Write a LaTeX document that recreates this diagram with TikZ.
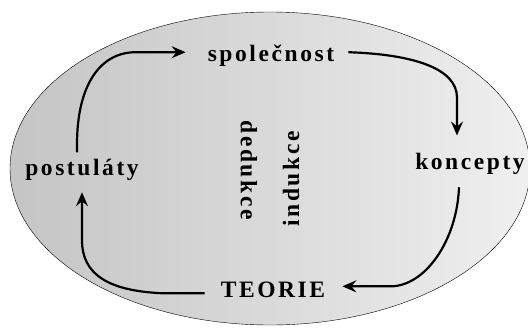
\documentclass[tikz,border=0pt]{standalone}
\usepackage{fontspec}
\setmainfont{Liberation Serif}
\newfontfamily\spacedfont[LetterSpace=11]{Liberation Serif Bold}
\usetikzlibrary{arrows.meta}

\begin{document}
\begin{tikzpicture}[x = 1pt, y = -1pt, > = {Stealth[length=14pt, width=12pt, inset=5pt]},
  lbl/.style = {font=\spacedfont\fontsize{23.5}{26}\selectfont, inner sep=0pt},
  cyc/.style = {->, line width=2.2pt}]
\useasboundingbox (0,0) rectangle (528,327);
\draw[thin, left color=black!23, middle color=black!6, right color=black!6]
  (270,168.5) ellipse [x radius=260pt, y radius=156.5pt];
\node[lbl, anchor=base] (spol) at (271,61) {společnost};
\node[lbl, anchor=base] (konc) at (470,169) {koncepty};
\node[lbl, anchor=base] (post) at (82,175) {postuláty};
\node[lbl, anchor=base] (teor) at (273,297) {TEORIE};
\node[lbl, rotate=-90] (ded) at (249,170) {dedukce};
\node[lbl, rotate=90] (ind) at (291,179) {indukce};
%
\draw[cyc] ([xshift=-5pt, yshift=6pt]post.north) -- ++(0,-8)
  .. controls +(0,-60) and +(-35,0) .. ([xshift=-72pt, yshift=3pt]spol.west)
  -- ([xshift=-22pt, yshift=3pt]spol.west);
\draw[cyc] ([xshift=14pt, yshift=3pt]spol.east)
  .. controls +(62,2) and +(0,-30) .. ([xshift=-13pt, yshift=55pt]konc.north)
  -- ([xshift=-13pt, yshift=17pt]konc.north);
\draw[cyc] ([xshift=-11pt, yshift=-13pt]konc.south)
  .. controls +(-2,53) and +(35,0) .. ([xshift=65pt, yshift=3pt]teor.east)
  -- ([xshift=17pt, yshift=3pt]teor.east);
\draw[cyc] ([xshift=-16pt, yshift=-4pt]teor.west) -- ++(-40,0)
  .. controls +(-55,-2) and +(0,35) .. ([yshift=-60pt]post.south)
  -- ([yshift=-12pt]post.south);
\end{tikzpicture}
\end{document}
